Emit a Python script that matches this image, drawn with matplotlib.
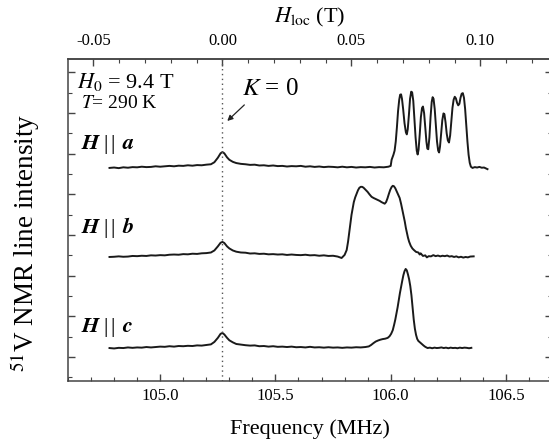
import matplotlib.pyplot as plt
import numpy as np

plt.rcParams['font.family'] = ['Liberation Serif', 'DejaVu Serif']
plt.rcParams['mathtext.fontset'] = 'stix'
plt.rcParams['axes.unicode_minus'] = False

# spectra: (frequency MHz, intensity above baseline, arb. units)
trace_a = [
    (104.78, 0.00), (104.80, 0.02), (104.82, -0.01), (104.84, 0.03), (104.86, 0.01),
    (104.88, 0.04), (104.90, 0.03), (104.92, 0.06), (104.94, 0.04), (104.96, 0.05),
    (104.98, 0.08), (105.00, 0.06), (105.02, 0.08), (105.04, 0.10), (105.06, 0.08),
    (105.08, 0.11), (105.10, 0.10), (105.12, 0.13), (105.14, 0.11), (105.16, 0.14),
    (105.18, 0.13), (105.20, 0.16), (105.22, 0.18), (105.235, 0.28), (105.25, 0.50),
    (105.262, 0.72), (105.27, 0.78), (105.278, 0.72), (105.29, 0.52), (105.30, 0.40),
    (105.315, 0.30), (105.33, 0.24), (105.35, 0.20), (105.37, 0.18), (105.39, 0.15),
    (105.41, 0.16), (105.43, 0.12), (105.45, 0.13), (105.47, 0.10), (105.49, 0.12),
    (105.51, 0.09), (105.53, 0.10), (105.55, 0.07), (105.57, 0.09), (105.59, 0.08),
    (105.61, 0.10), (105.63, 0.06), (105.65, 0.08), (105.67, 0.05), (105.69, 0.07),
    (105.71, 0.04), (105.73, 0.06), (105.75, 0.05), (105.77, 0.03), (105.79, 0.06),
    (105.81, 0.03), (105.83, 0.05), (105.85, 0.02), (105.87, 0.04), (105.89, 0.03),
    (105.91, 0.05), (105.93, 0.02), (105.95, 0.04), (105.97, 0.03), (105.99, 0.06),
    (106.000, 0.10), (106.004, 0.40), (106.012, 0.65), (106.017, 0.85), (106.022, 1.30),
    (106.027, 2.00), (106.032, 2.80), (106.037, 3.35), (106.041, 3.60), (106.045, 3.62),
    (106.049, 3.40), (106.054, 2.90), (106.060, 2.20), (106.066, 1.75), (106.070, 1.65),
    (106.074, 1.90), (106.079, 2.60), (106.084, 3.40), (106.089, 3.75), (106.093, 3.72),
    (106.098, 3.30), (106.103, 2.40), (106.108, 1.50), (106.113, 0.85), (106.117, 0.66),
    (106.121, 0.90), (106.126, 1.65), (106.131, 2.50), (106.136, 2.95), (106.140, 3.02),
    (106.145, 2.70), (106.150, 2.00), (106.155, 1.30), (106.159, 0.95), (106.163, 0.92),
    (106.168, 1.50), (106.173, 2.50), (106.178, 3.25), (106.182, 3.48), (106.186, 3.40),
    (106.191, 2.90), (106.196, 2.10), (106.201, 1.30), (106.206, 0.85), (106.210, 0.76),
    (106.214, 1.05), (106.219, 1.70), (106.224, 2.35), (106.229, 2.68), (106.233, 2.65),
    (106.238, 2.25), (106.243, 1.70), (106.248, 1.35), (106.253, 1.25), (106.258, 1.60),
    (106.263, 2.30), (106.268, 2.95), (106.273, 3.35), (106.278, 3.50), (106.283, 3.42),
    (106.288, 3.20), (106.293, 3.08), (106.298, 3.15), (106.303, 3.45), (106.308, 3.65),
    (106.313, 3.68), (106.318, 3.45), (106.323, 2.90), (106.328, 2.10), (106.333, 1.30),
    (106.338, 0.65), (106.343, 0.25), (106.348, 0.06), (106.355, 0.00), (106.365, 0.04),
    (106.375, 0.02), (106.385, 0.05), (106.395, 0.01), (106.405, 0.02), (106.415, -0.03),
    (106.42, -0.06),
]

trace_b = [
    (104.78, 0.00), (104.80, 0.01), (104.82, 0.03), (104.84, 0.01), (104.86, 0.02),
    (104.88, 0.05), (104.90, 0.04), (104.92, 0.06), (104.94, 0.05), (104.96, 0.08),
    (104.98, 0.07), (105.00, 0.09), (105.02, 0.08), (105.04, 0.11), (105.06, 0.12),
    (105.08, 0.11), (105.10, 0.14), (105.12, 0.13), (105.14, 0.16), (105.16, 0.15),
    (105.18, 0.18), (105.20, 0.19), (105.22, 0.22), (105.235, 0.32), (105.25, 0.52),
    (105.262, 0.70), (105.27, 0.74), (105.278, 0.69), (105.29, 0.52), (105.30, 0.42),
    (105.315, 0.32), (105.33, 0.26), (105.35, 0.22), (105.37, 0.21), (105.39, 0.17),
    (105.41, 0.18), (105.43, 0.15), (105.45, 0.16), (105.47, 0.13), (105.49, 0.14),
    (105.51, 0.12), (105.53, 0.13), (105.55, 0.10), (105.57, 0.12), (105.59, 0.10),
    (105.61, 0.09), (105.63, 0.11), (105.65, 0.08), (105.67, 0.09), (105.69, 0.06),
    (105.71, 0.08), (105.73, 0.05), (105.75, 0.06), (105.77, 0.02), (105.787, -0.05),
    (105.80, 0.10), (105.809, 0.34), (105.815, 0.75), (105.82, 1.20), (105.825, 1.65),
    (105.830, 2.07), (105.835, 2.40), (105.84, 2.70), (105.846, 2.93), (105.852, 3.10),
    (105.858, 3.28), (105.864, 3.40), (105.870, 3.45), (105.876, 3.45), (105.882, 3.41),
    (105.890, 3.32), (105.90, 3.20), (105.908, 3.08), (105.917, 2.96), (105.926, 2.90),
    (105.935, 2.85), (105.944, 2.80), (105.952, 2.76), (105.960, 2.70), (105.967, 2.66),
    (105.974, 2.62), (105.980, 2.70), (105.986, 2.88), (105.992, 3.10), (105.998, 3.30),
    (106.004, 3.44), (106.009, 3.50), (106.014, 3.48), (106.020, 3.38), (106.027, 3.20),
    (106.033, 3.05), (106.039, 2.90), (106.045, 2.62), (106.05, 2.35), (106.056, 2.05),
    (106.061, 1.75), (106.066, 1.42), (106.07, 1.20), (106.075, 0.95), (106.08, 0.75),
    (106.087, 0.55), (106.094, 0.42), (106.10, 0.35), (106.11, 0.25), (106.12, 0.22),
    (106.126, 0.12), (106.13, 0.18), (106.14, 0.05), (106.15, 0.08), (106.157, -0.02),
    (106.165, 0.04), (106.175, 0.03), (106.185, 0.09), (106.195, 0.04), (106.205, 0.07),
    (106.215, 0.03), (106.225, 0.06), (106.235, 0.04), (106.245, 0.07), (106.255, 0.02),
    (106.265, 0.04), (106.275, 0.00), (106.285, 0.03), (106.295, -0.02), (106.305, 0.01),
    (106.315, -0.03), (106.325, 0.00), (106.335, -0.02), (106.345, 0.02), (106.36, 0.03),
]

trace_c = [
    (104.78, 0.00), (104.80, -0.02), (104.82, 0.01), (104.84, 0.00), (104.86, 0.03),
    (104.88, 0.01), (104.90, 0.03), (104.92, 0.02), (104.94, 0.05), (104.96, 0.03),
    (104.98, 0.05), (105.00, 0.07), (105.02, 0.06), (105.04, 0.09), (105.06, 0.07),
    (105.08, 0.10), (105.10, 0.09), (105.12, 0.11), (105.14, 0.10), (105.16, 0.13),
    (105.18, 0.12), (105.20, 0.15), (105.22, 0.18), (105.235, 0.30), (105.25, 0.50),
    (105.262, 0.70), (105.27, 0.74), (105.278, 0.67), (105.29, 0.50), (105.30, 0.38),
    (105.315, 0.28), (105.33, 0.20), (105.35, 0.17), (105.37, 0.14), (105.39, 0.12),
    (105.41, 0.13), (105.43, 0.09), (105.45, 0.10), (105.47, 0.07), (105.49, 0.09),
    (105.51, 0.06), (105.53, 0.07), (105.55, 0.05), (105.57, 0.07), (105.59, 0.04),
    (105.61, 0.05), (105.63, 0.03), (105.65, 0.06), (105.67, 0.03), (105.69, 0.04),
    (105.71, 0.02), (105.73, 0.04), (105.75, 0.02), (105.77, 0.03), (105.79, 0.01),
    (105.81, 0.03), (105.83, 0.02), (105.85, 0.04), (105.87, 0.03), (105.89, 0.05),
    (105.905, 0.08), (105.915, 0.15), (105.925, 0.24), (105.935, 0.32), (105.945, 0.37),
    (105.955, 0.41), (105.965, 0.44), (105.976, 0.46), (105.987, 0.50), (105.995, 0.58),
    (106.002, 0.70), (106.009, 0.88), (106.015, 1.15), (106.02, 1.40), (106.025, 1.70),
    (106.03, 2.00), (106.035, 2.35), (106.04, 2.70), (106.045, 3.00), (106.05, 3.30),
    (106.055, 3.58), (106.06, 3.78), (106.065, 3.89), (106.07, 3.82), (106.075, 3.62),
    (106.08, 3.38), (106.085, 3.05), (106.09, 2.60), (106.095, 2.00), (106.10, 1.40),
    (106.105, 0.95), (106.11, 0.65), (106.115, 0.45), (106.12, 0.35), (106.127, 0.28),
    (106.135, 0.20), (106.143, 0.12), (106.15, 0.06), (106.16, 0.00), (106.17, 0.02),
    (106.18, -0.01), (106.19, 0.02), (106.20, 0.00), (106.21, 0.01), (106.22, 0.03),
    (106.23, 0.00), (106.24, 0.02), (106.25, -0.01), (106.26, 0.02), (106.27, 0.00),
    (106.28, 0.01), (106.29, -0.01), (106.30, 0.02), (106.31, 0.00), (106.32, 0.02),
    (106.33, 0.01), (106.34, -0.01), (106.35, 0.01),
]

labels = ['a', 'b', 'c']
f0 = 105.27        # K = 0 reference frequency (MHz)
gamma = 11.193     # 51V gyromagnetic ratio (MHz/T)

fig = plt.figure(figsize=(5.49, 4.41), dpi=100)
ax = fig.add_axes([0.1239, 0.1361, 0.8816, 0.7302])

offsets = [9.30, 4.92, 0.44]
for tr, off in zip([trace_a, trace_b, trace_c], offsets):
    fr, it = np.array(tr).T
    ax.plot(fr, it + off, color='#1a1a1a', lw=1.4)

ax.axvline(f0, color='#555555', lw=1.0, ls=(0, (1, 2.5)))

ax.set_xlim(104.6, 106.7)
ax.set_ylim(-1.18, 14.66)
ax.set_xticks([105.0, 105.5, 106.0, 106.5])
ax.set_xticks(np.arange(104.6, 106.71, 0.1), minor=True)
ax.set_yticks(np.arange(0, 15, 2))
ax.set_yticks(np.arange(-1, 15, 2), minor=True)
ax.set_yticklabels([])
ax.tick_params(which='both', direction='in', top=False, right=True, colors='#444444',
               labelcolor='black', labelsize=12)
ax.tick_params(which='major', length=5, width=1)
ax.tick_params(which='minor', length=3, width=0.8)
ax.tick_params(axis='x', pad=5)
for s in ax.spines.values():
    s.set_color('#444444')
    s.set_linewidth(1.1)

ax.set_xlabel('Frequency (MHz)', fontsize=16, labelpad=11)
ax.set_ylabel(r'$^{51}$V NMR line intensity', fontsize=19.5, labelpad=15)
ax.yaxis.label.set_y(0.43)

top = ax.secondary_xaxis('top', functions=(lambda f: (f - f0) / gamma,
                                            lambda h: h * gamma + f0))
top.set_xticks([-0.05, 0.0, 0.05, 0.10])
top.set_xticklabels(['-0.05', '0.00', '0.05', '0.10'])
top.set_xticks(np.arange(-0.06, 0.13, 0.01), minor=True)
top.tick_params(which='both', direction='in', colors='#444444', labelcolor='black',
                labelsize=12, pad=7)
top.tick_params(which='major', length=5, width=1)
top.tick_params(which='minor', length=3, width=0.8)
top.spines['top'].set_color('#444444')
top.spines['top'].set_linewidth(1.1)
top.set_xlabel(r'$H_{\rm loc}$ (T)', fontsize=16, labelpad=8)

ax.text(104.639, 13.53, r'$H_0$ = 9.4 T', fontsize=16, va='center', ha='left')
ax.text(104.657, 12.49, r'$T$= 290 K', fontsize=14, va='center', ha='left')
ax.text(105.357, 13.18, r'$K$ = 0', fontsize=18, va='center', ha='left')
ax.annotate('', xy=(105.291, 11.61), xytext=(105.365, 12.40),
            arrowprops=dict(arrowstyle='-|>', color='#222222', lw=0.9,
                            mutation_scale=8, shrinkA=0, shrinkB=0))

for lab, y in zip(labels, [10.43, 6.35, 1.43]):
    ax.text(104.657, y, r'$\mathbfit{H}\;$|$\,$|$\;\,\mathbfit{' + lab + '}$', fontsize=16,
            va='center', ha='left')

fig.savefig('out.png', dpi=100)
